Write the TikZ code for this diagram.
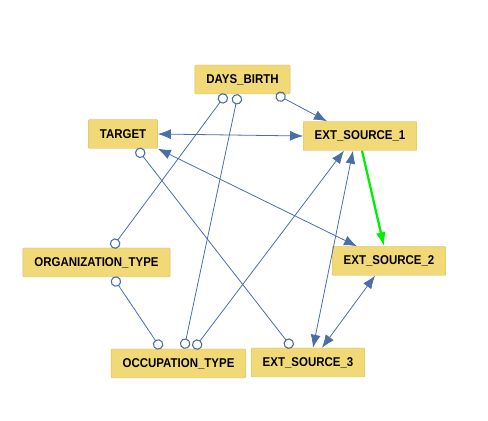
\documentclass[tikz,border=0pt]{standalone}
\usepackage{fontspec}
\newfontfamily\varfont{Liberation Sans}[FakeStretch=0.9]
\usepackage{tikz}
\usetikzlibrary{arrows.meta}
\definecolor{varfill}{RGB}{242,217,119}
\definecolor{varline}{RGB}{214,188,98}
\definecolor{linkcol}{RGB}{74,110,170}
\definecolor{bestcol}{RGB}{0,240,0}

\begin{document}
\begin{tikzpicture}[>={Latex[length=13bp,width=10bp]},line join=bevel,
  ring/.tip={Circle[open,length=10.5bp,line width=1.1bp]},
  var/.style={draw=varline,fill=varfill,rounded corners=1bp,inner xsep=11.5bp,
    minimum height=29bp,font=\varfont\bfseries\fontsize{12.8}{14}\selectfont},
  link/.style={draw=linkcol,line width=0.8bp},
  best/.style={draw=bestcol,line width=2.3bp,>={Latex[length=14bp,width=10bp]}}]
%%
  \useasboundingbox (0bp,0bp) rectangle (488bp,421bp);
  \node (dob) at (242.5bp,341.5bp) [var] {DAYS\_BIRTH};
  \node (target) at (123bp,287bp) [var] {TARGET};
  \node (ext1) at (360bp,285bp) [var] {EXT\_SOURCE\_1};
  \node (org) at (96.5bp,158.5bp) [var] {ORGANIZATION\_TYPE};
  \node (ext2) at (389bp,160bp) [var] {EXT\_SOURCE\_2};
  \node (occ) at (178.5bp,57.5bp) [var] {OCCUPATION\_TYPE};
  \node (ext3) at (308bp,58.5bp) [var] {EXT\_SOURCE\_3};
  \draw [link,ring-ring] ([xshift=-16.5bp]dob.south) -- ([xshift=15.5bp]org.north);
  \draw [link,ring-ring] ([xshift=-4.5bp]dob.south) -- ([xshift=5.5bp]occ.north);
  \draw [link,ring->] ([xshift=33.5bp]dob.south) -- ([xshift=-33bp]ext1.north);
  \draw [link,<->] (target.east) -- (ext1.west);
  \draw [link,<->] (target.south east) -- ([xshift=-32bp]ext2.north);
  \draw [link,ring-ring] ([xshift=14bp]target.south) -- ([xshift=-16bp]ext3.north);
  \draw [link,ring-ring] ([xshift=16.5bp]org.south) -- ([xshift=-17.5bp]occ.north);
  \draw [link,ring->] ([xshift=15.5bp]occ.north) -- ([xshift=-16bp]ext1.south);
  \draw [link,<->] ([xshift=-7bp]ext1.south) -- ([xshift=5bp]ext3.north);
  \draw [link,<->] ([xshift=14bp]ext3.north) -- ([xshift=-14bp]ext2.south);
  \draw [best,->] ([xshift=2bp]ext1.south) -- ([xshift=-5bp]ext2.north);
%
\end{tikzpicture}
\end{document}
